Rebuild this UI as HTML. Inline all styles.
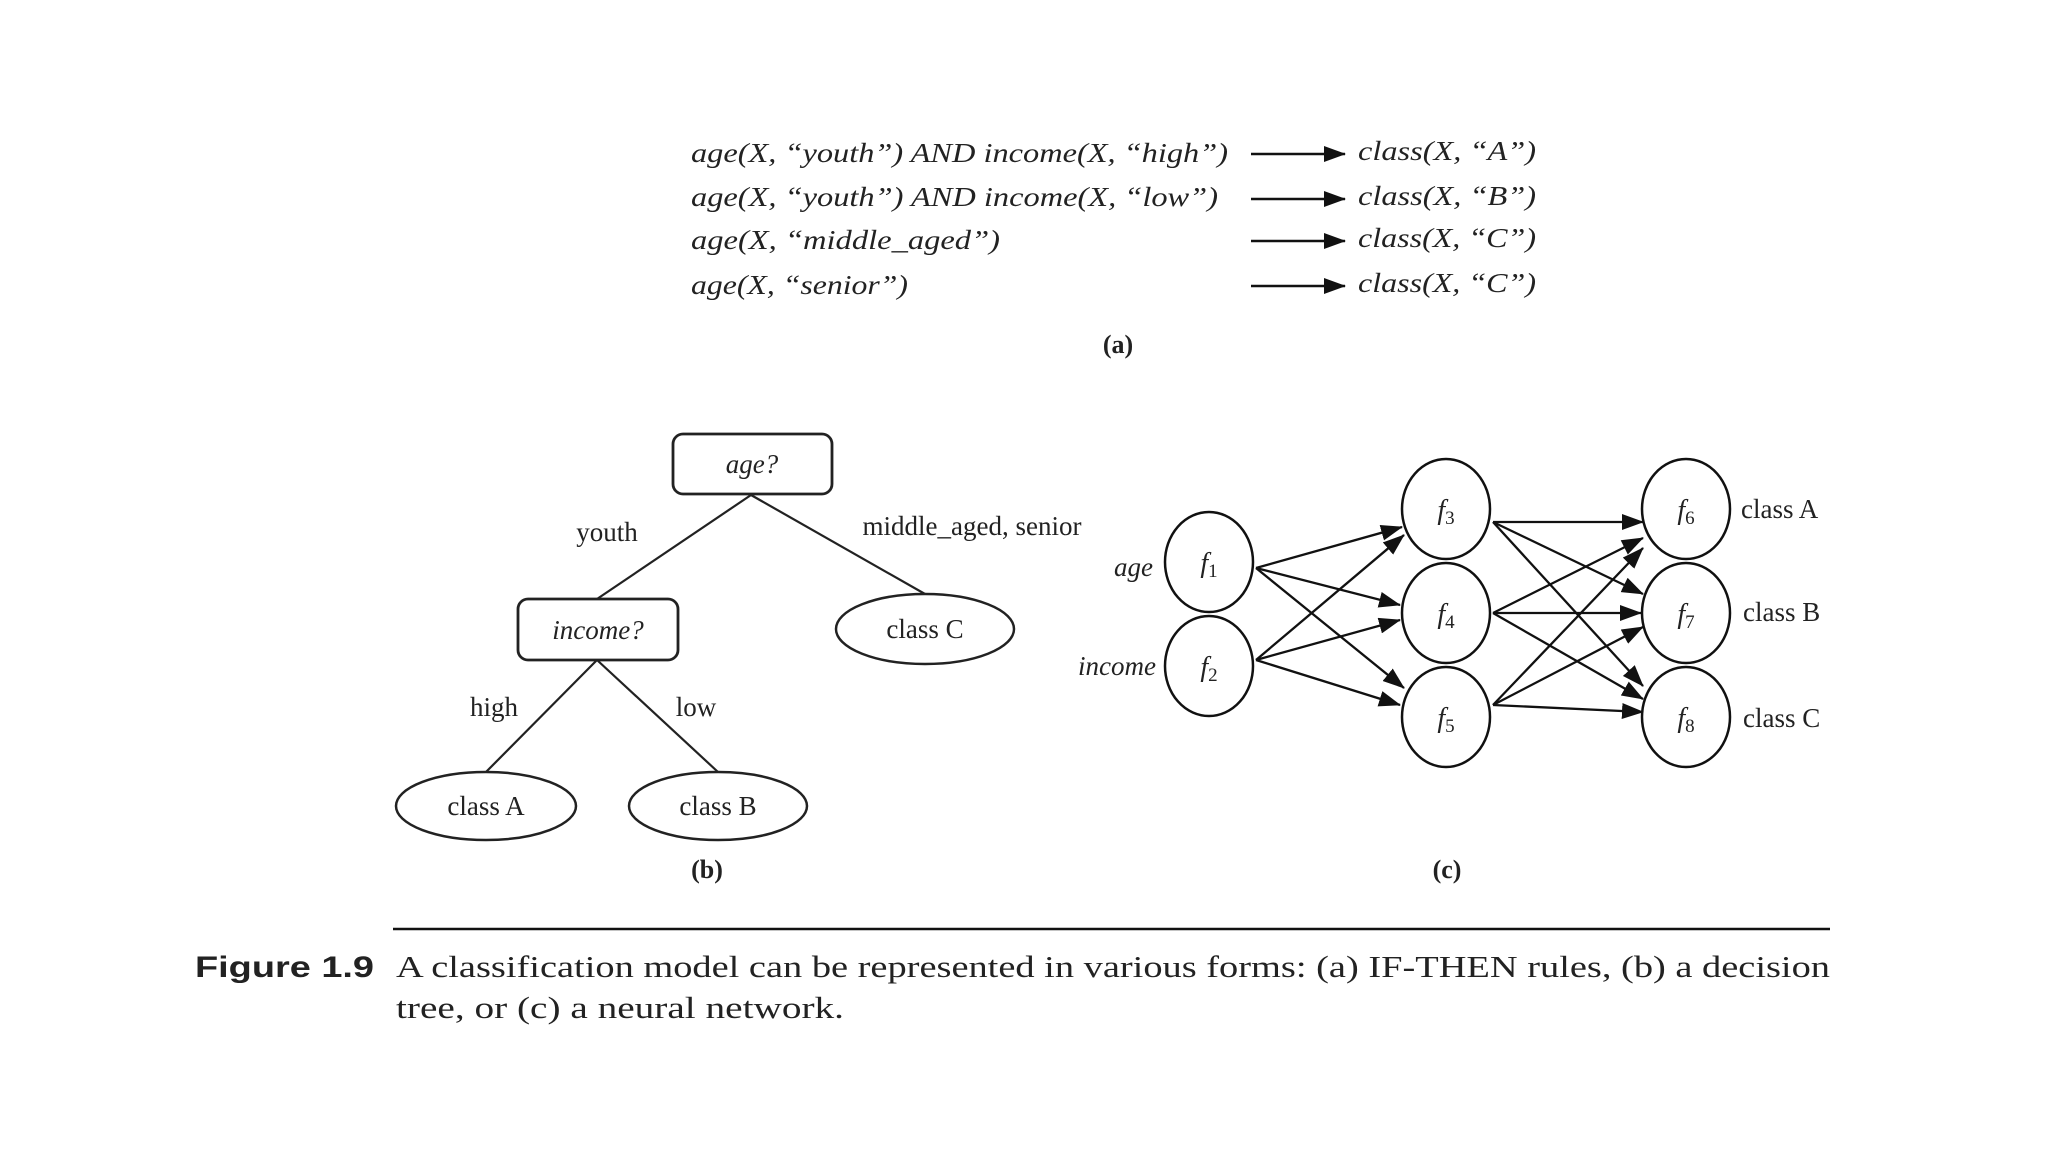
<!DOCTYPE html>
<html><head><meta charset="utf-8"><style>html,body{margin:0;padding:0;background:#fff}svg{display:block}</style></head>
<body>
<svg width="2048" height="1152" viewBox="0 0 2048 1152" xmlns="http://www.w3.org/2000/svg" font-family="Liberation Serif, serif" fill="#222">
<defs>
<marker id="a" markerWidth="10" markerHeight="8" refX="9" refY="4" orient="auto" markerUnits="userSpaceOnUse" viewBox="0 0 10 8"><path d="M0,0 L10,4 L0,8 z" fill="#111"/></marker>
<marker id="b" markerWidth="22" markerHeight="16" refX="21" refY="8" orient="auto" markerUnits="userSpaceOnUse" viewBox="0 0 22 16"><path d="M0,0 L22,8 L0,16 z" fill="#111"/></marker>
</defs>
<rect width="2048" height="1152" fill="#fff"/>
<!-- (a) rules -->
<g font-size="27" font-style="italic">
<text x="691" y="162" textLength="537" lengthAdjust="spacingAndGlyphs">age(X, “youth”) AND income(X, “high”)</text>
<text x="691" y="206" textLength="527" lengthAdjust="spacingAndGlyphs">age(X, “youth”) AND income(X, “low”)</text>
<text x="691" y="249" textLength="309" lengthAdjust="spacingAndGlyphs">age(X, “middle_aged”)</text>
<text x="691" y="294" textLength="217" lengthAdjust="spacingAndGlyphs">age(X, “senior”)</text>
<text x="1358" y="160" textLength="178" lengthAdjust="spacingAndGlyphs">class(X, “A”)</text>
<text x="1358" y="205" textLength="178" lengthAdjust="spacingAndGlyphs">class(X, “B”)</text>
<text x="1358" y="247" textLength="178" lengthAdjust="spacingAndGlyphs">class(X, “C”)</text>
<text x="1358" y="292" textLength="178" lengthAdjust="spacingAndGlyphs">class(X, “C”)</text>
</g>
<g stroke="#111" stroke-width="2.5" fill="none">
<line x1="1251" y1="154" x2="1345" y2="154" marker-end="url(#b)"/>
<line x1="1251" y1="199" x2="1345" y2="199" marker-end="url(#b)"/>
<line x1="1251" y1="241" x2="1345" y2="241" marker-end="url(#b)"/>
<line x1="1251" y1="286" x2="1345" y2="286" marker-end="url(#b)"/>
</g>
<text x="1118" y="353" font-size="26" font-weight="bold" text-anchor="middle">(a)</text>
<!-- (b) tree -->
<g stroke="#222" stroke-width="2.2" fill="none">
<line x1="751" y1="495" x2="597" y2="599"/>
<line x1="751" y1="495" x2="925" y2="594"/>
<line x1="597" y1="660" x2="486" y2="772"/>
<line x1="597" y1="660" x2="718" y2="772"/>
<rect x="673" y="434" width="159" height="60" rx="10" fill="#fff" stroke-width="2.8"/>
<rect x="518" y="599" width="160" height="61" rx="10" fill="#fff" stroke-width="2.8"/>
<ellipse cx="925" cy="629" rx="89" ry="35" fill="#fff" stroke-width="2.5"/>
<ellipse cx="486" cy="806" rx="90" ry="34" fill="#fff" stroke-width="2.5"/>
<ellipse cx="718" cy="806" rx="89" ry="34" fill="#fff" stroke-width="2.5"/>
</g>
<g font-size="27" text-anchor="middle">
<text x="752" y="473" font-style="italic">age?</text>
<text x="598" y="639" font-style="italic">income?</text>
<text x="925" y="638">class C</text>
<text x="486" y="815">class A</text>
<text x="718" y="815">class B</text>
<text x="607" y="541">youth</text>
<text x="972" y="535">middle_aged, senior</text>
<text x="494" y="716">high</text>
<text x="696" y="716">low</text>
<text x="707" y="878" font-size="26" font-weight="bold">(b)</text>
</g>
<!-- (c) network -->
<g stroke="#111" stroke-width="2.3" fill="none">
<line x1="1256" y1="568" x2="1402" y2="527" marker-end="url(#b)"/>
<line x1="1256" y1="568" x2="1400" y2="605" marker-end="url(#b)"/>
<line x1="1256" y1="568" x2="1404" y2="688" marker-end="url(#b)"/>
<line x1="1256" y1="660" x2="1404" y2="535" marker-end="url(#b)"/>
<line x1="1256" y1="660" x2="1400" y2="620" marker-end="url(#b)"/>
<line x1="1256" y1="660" x2="1400" y2="705" marker-end="url(#b)"/>
<line x1="1493" y1="522" x2="1643" y2="522" marker-end="url(#b)"/>
<line x1="1493" y1="613" x2="1643" y2="538" marker-end="url(#b)"/>
<line x1="1493" y1="705" x2="1643" y2="548" marker-end="url(#b)"/>
<line x1="1493" y1="522" x2="1643" y2="594" marker-end="url(#b)"/>
<line x1="1493" y1="613" x2="1641" y2="613" marker-end="url(#b)"/>
<line x1="1493" y1="705" x2="1643" y2="627" marker-end="url(#b)"/>
<line x1="1493" y1="522" x2="1643" y2="686" marker-end="url(#b)"/>
<line x1="1493" y1="613" x2="1643" y2="699" marker-end="url(#b)"/>
<line x1="1493" y1="705" x2="1643" y2="712" marker-end="url(#b)"/>
<g stroke-width="2.5">
<ellipse cx="1209" cy="562" rx="44" ry="50"/>
<ellipse cx="1209" cy="666" rx="44" ry="50"/>
<ellipse cx="1446" cy="509" rx="44" ry="50"/>
<ellipse cx="1446" cy="613" rx="44" ry="50"/>
<ellipse cx="1446" cy="717" rx="44" ry="50"/>
<ellipse cx="1686" cy="509" rx="44" ry="50"/>
<ellipse cx="1686" cy="613" rx="44" ry="50"/>
<ellipse cx="1686" cy="717" rx="44" ry="50"/>
</g>
</g>
<g font-size="28" font-style="italic" text-anchor="middle">
<text x="1209" y="572">f<tspan font-size="19" font-style="normal" dy="5">1</tspan></text>
<text x="1209" y="676">f<tspan font-size="19" font-style="normal" dy="5">2</tspan></text>
<text x="1446" y="519">f<tspan font-size="19" font-style="normal" dy="5">3</tspan></text>
<text x="1446" y="623">f<tspan font-size="19" font-style="normal" dy="5">4</tspan></text>
<text x="1446" y="727">f<tspan font-size="19" font-style="normal" dy="5">5</tspan></text>
<text x="1686" y="519">f<tspan font-size="19" font-style="normal" dy="5">6</tspan></text>
<text x="1686" y="623">f<tspan font-size="19" font-style="normal" dy="5">7</tspan></text>
<text x="1686" y="727">f<tspan font-size="19" font-style="normal" dy="5">8</tspan></text>
</g>
<g font-size="27">
<text x="1153" y="576" font-style="italic" text-anchor="end">age</text>
<text x="1156" y="675" font-style="italic" text-anchor="end">income</text>
<text x="1741" y="518">class A</text>
<text x="1743" y="621">class B</text>
<text x="1743" y="727">class C</text>
<text x="1447" y="878" font-size="26" font-weight="bold" text-anchor="middle">(c)</text>
</g>
<!-- caption -->
<line x1="393" y1="929" x2="1830" y2="929" stroke="#111" stroke-width="2.5"/>
<text x="195" y="977" font-family="Liberation Sans, sans-serif" font-size="30" font-weight="bold" textLength="179" lengthAdjust="spacingAndGlyphs">Figure 1.9</text>
<text x="396" y="977" font-size="31" textLength="1434" lengthAdjust="spacingAndGlyphs">A classification model can be represented in various forms: (a) IF-THEN rules, (b) a decision</text>
<text x="396" y="1018" font-size="31" textLength="448" lengthAdjust="spacingAndGlyphs">tree, or (c) a neural network.</text>
</svg>
</body></html>
